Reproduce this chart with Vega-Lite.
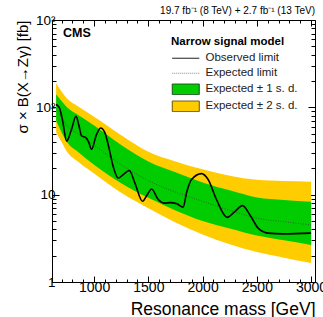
{
  "$schema": "https://vega.github.io/schema/vega-lite/v6.json",
  "width": 263,
  "height": 262,
  "autosize": {"type": "none"},
  "padding": {"left": 52, "top": 20, "right": 8, "bottom": 35},
  "background": "white",
  "config": {
    "font": "Liberation Sans",
    "view": {"stroke": null},
    "axis": {"grid": false, "domainColor": "black", "domainWidth": 1, "tickColor": "black", "tickWidth": 1, "labelColor": "black", "titleColor": "black", "labelFont": "Liberation Sans", "titleFont": "Liberation Sans", "titleFontWeight": "normal"},
    "legend": {
      "orient": "none", "legendX": 119, "legendY": 16,
      "titleFontSize": 11.5, "titleFontWeight": "bold", "titleColor": "black", "titlePadding": 5, "titleFont": "Liberation Sans",
      "labelFontSize": 11.5, "labelColor": "#222222", "labelOffset": 14, "labelFont": "Liberation Sans",
      "symbolSize": 100, "symbolOffset": 9, "rowPadding": 2, "symbolStrokeWidth": 1, "symbolOpacity": 1
    }
  },
  "title": {"text": "19.7 fb⁻¹ (8 TeV) + 2.7 fb⁻¹ (13 TeV)", "anchor": "end", "frame": "group", "fontSize": 10, "fontWeight": "normal", "font": "Liberation Sans", "color": "black", "offset": -3},
  "datasets": {
    "bands": [
      {"mass": 650, "lo2": 52, "lo1": 70, "exp": 97, "hi1": 141, "hi2": 189},
      {"mass": 700, "lo2": 40, "lo1": 52, "exp": 77, "hi1": 118, "hi2": 152},
      {"mass": 750, "lo2": 31, "lo1": 40, "exp": 62, "hi1": 100, "hi2": 126},
      {"mass": 850, "lo2": 24, "lo1": 31, "exp": 50, "hi1": 82, "hi2": 103},
      {"mass": 1000, "lo2": 17.5, "lo1": 22, "exp": 37, "hi1": 62, "hi2": 78},
      {"mass": 1250, "lo2": 10.5, "lo1": 13.5, "exp": 22, "hi1": 37, "hi2": 48},
      {"mass": 1500, "lo2": 7, "lo1": 9.2, "exp": 14.5, "hi1": 24, "hi2": 31},
      {"mass": 1750, "lo2": 4.8, "lo1": 6.6, "exp": 10.7, "hi1": 18, "hi2": 24},
      {"mass": 2000, "lo2": 3.5, "lo1": 5.0, "exp": 8.4, "hi1": 13.8, "hi2": 19.5},
      {"mass": 2250, "lo2": 2.7, "lo1": 4.1, "exp": 6.6, "hi1": 11.2, "hi2": 16.5},
      {"mass": 2500, "lo2": 2.2, "lo1": 3.4, "exp": 5.4, "hi1": 9.3, "hi2": 14.8},
      {"mass": 2750, "lo2": 1.9, "lo1": 3.0, "exp": 4.9, "hi1": 8.7, "hi2": 14.3},
      {"mass": 3000, "lo2": 1.65, "lo1": 2.66, "exp": 4.5, "hi1": 8.3, "hi2": 14.1}
    ],
    "observed": [
      {"mass": 650, "obs": 108}, {"mass": 680, "obs": 99}, {"mass": 710, "obs": 70},
      {"mass": 747, "obs": 41}, {"mass": 790, "obs": 55}, {"mass": 833, "obs": 79},
      {"mass": 860, "obs": 62}, {"mass": 885, "obs": 47}, {"mass": 925, "obs": 45},
      {"mass": 950, "obs": 40}, {"mass": 977, "obs": 33}, {"mass": 1020, "obs": 48},
      {"mass": 1060, "obs": 58}, {"mass": 1100, "obs": 51}, {"mass": 1140, "obs": 33},
      {"mass": 1176, "obs": 21}, {"mass": 1222, "obs": 15.5}, {"mass": 1269, "obs": 17},
      {"mass": 1324, "obs": 18.9}, {"mass": 1376, "obs": 13.6}, {"mass": 1447, "obs": 8.4},
      {"mass": 1490, "obs": 10}, {"mass": 1530, "obs": 11.6}, {"mass": 1591, "obs": 8.8},
      {"mass": 1653, "obs": 8.0}, {"mass": 1700, "obs": 8.1}, {"mass": 1760, "obs": 7.9},
      {"mass": 1821, "obs": 7.2}, {"mass": 1852, "obs": 10.5}, {"mass": 1898, "obs": 14.9},
      {"mass": 1990, "obs": 17.4}, {"mass": 2051, "obs": 14.9}, {"mass": 2128, "obs": 8.8},
      {"mass": 2226, "obs": 5.5}, {"mass": 2297, "obs": 6.4}, {"mass": 2368, "obs": 7.5},
      {"mass": 2435, "obs": 5.9}, {"mass": 2512, "obs": 4.14}, {"mass": 2604, "obs": 3.63},
      {"mass": 2742, "obs": 3.56}, {"mass": 3000, "obs": 3.63}
    ],
    "entries": [
      {"entry": "Observed limit"},
      {"entry": "Expected limit"},
      {"entry": "Expected ± 1 s. d."},
      {"entry": "Expected ± 2 s. d."}
    ]
  },
  "layer": [
    {
      "data": {"name": "bands"},
      "mark": {"type": "area", "interpolate": "monotone", "color": "#FFCC00"},
      "encoding": {
        "x": {"field": "mass", "type": "quantitative",
          "scale": {"domain": [612, 3036], "zero": false, "nice": false},
          "axis": {"orient": "bottom", "values": [700,800,900,1000,1100,1200,1300,1400,1500,1600,1700,1800,1900,2000,2100,2200,2300,2400,2500,2600,2700,2800,2900,3000],
            "labelExpr": "datum.value % 500 === 0 ? format(datum.value, 'd') : ''",
            "labelOverlap": false, "labelFontSize": 14, "labelPadding": 4, "labelFlush": false,
            "tickSize": {"condition": {"test": "datum.value % 500 === 0", "value": -6}, "value": -3},
            "title": "Resonance mass [GeV]", "titleFontSize": 17.5, "titleAnchor": "end", "titlePadding": 3}},
        "y": {"field": "lo2", "type": "quantitative",
          "scale": {"type": "log", "domain": [1, 1000], "nice": false},
          "axis": {"orient": "left", "values": [1,2,3,4,5,6,7,8,9,10,20,30,40,50,60,70,80,90,100,200,300,400,500,600,700,800,900,1000],
            "labelExpr": "datum.value === 1000 ? '10³' : datum.value === 100 ? '10²' : datum.value === 10 ? '10' : datum.value === 1 ? '1' : ''",
            "labelOverlap": false, "labelFontSize": 13.5, "labelPadding": 4, "labelFlush": false,
            "tickSize": {"condition": {"test": "datum.value === 1 || datum.value === 10 || datum.value === 100 || datum.value === 1000", "value": -7}, "value": -4},
            "title": "σ × B(X→Zγ) [fb]", "titleFontSize": 15, "titleAnchor": "end", "titlePadding": 5}},
        "y2": {"field": "hi2"}
      }
    },
    {
      "data": {"name": "bands"},
      "mark": {"type": "area", "interpolate": "monotone", "color": "#00CC00"},
      "encoding": {
        "x": {"field": "mass", "type": "quantitative",
          "axis": {"orient": "top", "values": [700,800,900,1000,1100,1200,1300,1400,1500,1600,1700,1800,1900,2000,2100,2200,2300,2400,2500,2600,2700,2800,2900,3000],
            "labels": false, "title": null,
            "tickSize": {"condition": {"test": "datum.value % 500 === 0", "value": -6}, "value": -3}}},
        "y": {"field": "lo1", "type": "quantitative",
          "axis": {"orient": "right", "values": [1,2,3,4,5,6,7,8,9,10,20,30,40,50,60,70,80,90,100,200,300,400,500,600,700,800,900,1000],
            "labels": false, "title": null,
            "tickSize": {"condition": {"test": "datum.value === 1 || datum.value === 10 || datum.value === 100 || datum.value === 1000", "value": -7}, "value": -4}}},
        "y2": {"field": "hi1"}
      }
    },
    {
      "data": {"name": "bands"},
      "mark": {"type": "line", "interpolate": "monotone", "strokeWidth": 0.8, "strokeDash": [1, 1.5], "color": "#444444"},
      "encoding": {
        "x": {"field": "mass", "type": "quantitative", "axis": null},
        "y": {"field": "exp", "type": "quantitative", "axis": null}
      }
    },
    {
      "data": {"name": "observed"},
      "mark": {"type": "line", "interpolate": "monotone", "strokeWidth": 1.6, "color": "black"},
      "encoding": {
        "x": {"field": "mass", "type": "quantitative", "axis": null},
        "y": {"field": "obs", "type": "quantitative", "axis": null}
      }
    },
    {
      "data": {"values": [{"label": "CMS"}]},
      "mark": {"type": "text", "font": "Liberation Sans", "fontWeight": "bold", "fontSize": 12.5, "align": "left", "baseline": "alphabetic", "color": "black"},
      "encoding": {
        "x": {"datum": 713, "type": "quantitative", "axis": null},
        "y": {"datum": 640, "type": "quantitative", "axis": null},
        "text": {"field": "label"}
      }
    },
    {
      "data": {"name": "entries"},
      "mark": {"type": "point", "opacity": 0, "size": 100, "strokeWidth": 1},
      "encoding": {
        "fill": {"field": "entry", "type": "nominal",
          "scale": {"domain": ["Observed limit", "Expected limit", "Expected ± 1 s. d.", "Expected ± 2 s. d."], "range": ["transparent", "transparent", "#00CC00", "#FFCC00"]},
          "legend": {"title": "Narrow signal model"}},
        "stroke": {"field": "entry", "type": "nominal",
          "scale": {"domain": ["Observed limit", "Expected limit", "Expected ± 1 s. d.", "Expected ± 2 s. d."], "range": ["black", "#888888", "#1f4f1f", "#6b5200"]},
          "legend": {"title": "Narrow signal model"}},
        "shape": {"field": "entry", "type": "nominal",
          "scale": {"domain": ["Observed limit", "Expected limit", "Expected ± 1 s. d.", "Expected ± 2 s. d."], "range": ["M-2.7,0H2.7", "M-2.7,0H2.7", "M-2.7,-1.05H2.7V1.05H-2.7Z", "M-2.7,-1.05H2.7V1.05H-2.7Z"]},
          "legend": {"title": "Narrow signal model"}},
        "strokeDash": {"field": "entry", "type": "nominal",
          "scale": {"domain": ["Observed limit", "Expected limit", "Expected ± 1 s. d.", "Expected ± 2 s. d."], "range": [[1, 0], [1, 1], [1, 0], [1, 0]]},
          "legend": {"title": "Narrow signal model"}}
      }
    }
  ],
  "resolve": {"axis": {"x": "independent", "y": "independent"}}
}
